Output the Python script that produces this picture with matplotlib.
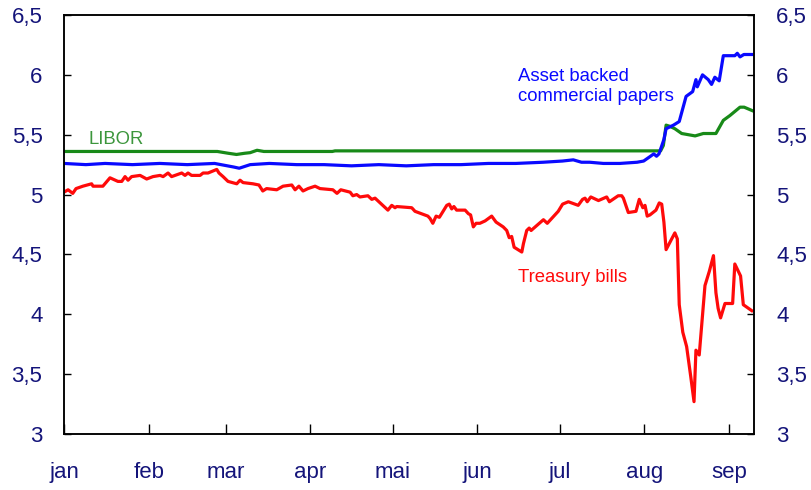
import numpy as np
import pandas as pd
import matplotlib
matplotlib.use("Agg")
import matplotlib.pyplot as plt
from matplotlib.ticker import FuncFormatter

plt.rcParams['font.family'] = ['Liberation Sans', 'DejaVu Sans']

# days since 1 Jan 2007, values in percent
tbill_days = [0, 1.5, 3.2, 4.4, 6.9, 10.1, 10.6, 14.2, 16.8, 19.7, 21.1, 22.3, 23.4, 24.7,
              27.8, 30.2, 32.5, 35.1, 36.2, 38.0, 39.3, 43.0, 44.2, 45.3, 46.6, 49.7, 50.8,
              52.6, 55.8, 56.6, 58.1, 59.9, 63.1, 64.3, 65.4, 69.0, 71.2, 72.6, 74.0, 77.7,
              80.0, 83.2, 84.4, 85.8, 87.3, 89.1, 91.7, 93.5, 98.2, 99.7, 101.1, 104.5,
              105.5, 106.9, 108.1, 111.0, 112.4, 113.6, 118.3, 119.7, 120.9, 121.5, 127.0,
              128.2, 132.9, 133.7, 134.7, 135.9, 137.1, 139.8, 140.7, 141.6, 142.4, 143.4,
              146.5, 147.7, 148.5, 149.5, 150.5, 151.9, 153.8, 156.2, 157.8, 160.4, 161.7,
              162.6, 163.5, 164.4, 167.2, 167.8, 169.0, 169.9, 170.6, 175.1, 176.5, 180.5,
              182.1, 184.2, 187.8, 189.4, 190.3, 191.1, 192.4, 195.2, 198.2, 199.2, 202.4,
              203.7, 204.3, 206.1, 208.9, 210.1, 211.4, 212.2, 213.0, 214.0, 216.2, 217.4,
              218.3, 219.1, 219.9, 223.1, 224.0, 224.7, 226.0, 227.4, 228.9, 230.1, 230.8,
              232.0, 234.1, 235.7, 237.2, 238.1, 238.9, 239.8, 241.4, 244.2, 245.0, 247.1,
              248.1, 251.2]
tbill = [5.02, 5.04, 5.01, 5.05, 5.07, 5.09, 5.07, 5.07, 5.14, 5.11, 5.11, 5.15, 5.12, 5.15,
         5.16, 5.13, 5.15, 5.16, 5.15, 5.18, 5.15, 5.18, 5.16, 5.18, 5.16, 5.16, 5.18,
         5.18, 5.21, 5.18, 5.15, 5.11, 5.09, 5.12, 5.10, 5.09, 5.08, 5.03, 5.05, 5.04,
         5.07, 5.08, 5.04, 5.07, 5.03, 5.05, 5.07, 5.05, 5.04, 5.01, 5.04, 5.02,
         4.99, 5.00, 4.98, 4.99, 4.96, 4.97, 4.87, 4.91, 4.89, 4.90, 4.89,
         4.86, 4.82, 4.80, 4.76, 4.82, 4.81, 4.91, 4.92, 4.88, 4.90, 4.87,
         4.87, 4.84, 4.83, 4.73, 4.76, 4.76, 4.78, 4.82, 4.77, 4.73, 4.70,
         4.64, 4.65, 4.56, 4.52, 4.59, 4.70, 4.72, 4.70, 4.79, 4.76, 4.86,
         4.92, 4.94, 4.91, 4.96, 4.97, 4.94, 4.98, 4.95, 4.98, 4.94, 4.99,
         4.99, 4.97, 4.85, 4.86, 4.96, 4.89, 4.91, 4.82, 4.83, 4.87, 4.93,
         4.92, 4.77, 4.54, 4.68, 4.63, 4.08, 3.85, 3.73, 3.48, 3.27, 3.70,
         3.66, 4.24, 4.36, 4.49, 4.18, 4.05, 3.97, 4.09, 4.09, 4.42, 4.32,
         4.08, 4.03]

abcp_days = [0, 8, 15, 25, 35, 45, 55, 62, 64, 68, 75, 85, 95, 105, 115, 125, 135, 145,
             155, 165, 175, 182, 186, 189, 192, 197, 203, 209.3, 211.7, 214.2, 215.4,
             216.4, 217.3, 219.1, 219.9, 222.6, 224.7, 227.2, 229.6, 230.8, 231.3, 233.2,
             235.3, 236.5, 237.7, 239.3, 240.8, 245.0, 245.9, 246.9, 248.3, 251.2]
abcp = [5.26, 5.25, 5.26, 5.25, 5.26, 5.25, 5.26, 5.23, 5.22, 5.25, 5.26, 5.25, 5.25, 5.24,
        5.25, 5.24, 5.25, 5.25, 5.26, 5.26, 5.27, 5.28, 5.29, 5.27, 5.27, 5.26, 5.26, 5.27,
        5.28, 5.32, 5.34, 5.32, 5.34, 5.46, 5.55, 5.58, 5.61, 5.82, 5.86, 5.96, 5.90, 6.00,
        5.96, 5.92, 5.98, 5.95, 6.16, 6.16, 6.18, 6.15, 6.17, 6.17]

libor_days = [0, 56, 60, 63, 66, 68, 70.5, 73, 98, 99, 217.9, 218.9, 219.9, 221.3, 223.1,
              225.6, 230.5, 233.5, 238.1, 240.8, 243.2, 246.9, 248.4, 251.5]
libor = [5.36, 5.36, 5.345, 5.335, 5.345, 5.35, 5.37, 5.36, 5.36, 5.365, 5.365, 5.41, 5.58,
         5.57, 5.55, 5.51, 5.49, 5.51, 5.51, 5.62, 5.66, 5.73, 5.73, 5.70]

months = ['jan', 'feb', 'mar', 'apr', 'mai', 'jun', 'jul', 'aug', 'sep']

start = pd.Timestamp('2007-01-01')
def to_dates(d):
    return start + pd.to_timedelta(np.array(d), unit='D')

navy = '#14147a'
fig = plt.figure(figsize=(8.11, 4.90), dpi=100)
ax = fig.add_axes([0.0789, 0.1143, 0.8508, 0.8551])

ax.plot(to_dates(libor_days), libor, color='#188a18', lw=2.3)
ax.plot(to_dates(abcp_days), abcp, color='#0a0aff', lw=2.3)
ax.plot(to_dates(tbill_days), tbill, color='#ff0a0a', lw=2.3)

ax.set_xlim(start, start + pd.Timedelta(days=252))
ax.set_ylim(3, 6.5)
ticks = pd.date_range('2007-01-01', periods=9, freq='MS')
ax.set_xticks(ticks)
ax.set_xticklabels(months)
ax.set_yticks(np.arange(3, 6.51, 0.5))
fmt = FuncFormatter(lambda v, p: ('%g' % v).replace('.', ','))
ax.yaxis.set_major_formatter(fmt)

ax2 = ax.twinx()
ax2.set_ylim(3, 6.5)
ax2.set_yticks(np.arange(3, 6.51, 0.5))
ax2.yaxis.set_major_formatter(fmt)

for a in (ax, ax2):
    for s in a.spines.values():
        s.set_linewidth(1.1)
ax.tick_params(axis='y', direction='in', length=5, width=1, pad=15.5, labelsize=16, labelcolor=navy)
ax.tick_params(axis='x', direction='in', length=7, width=1, pad=20, labelsize=16, labelcolor=navy)
ax2.tick_params(axis='y', direction='in', length=5, width=1, pad=16, labelsize=16, labelcolor=navy)

ax.text(start + pd.Timedelta(days=8.8), 5.46, 'LIBOR', color='#3c963c', fontsize=13.3, va='center')
ax.text(start + pd.Timedelta(days=165.8), 5.90, 'Asset backed\ncommercial papers', color='#0a0aff',
        fontsize=13.3, va='center', linespacing=1.25)
ax.text(start + pd.Timedelta(days=165.8), 4.31, 'Treasury bills', color='#ff0a0a', fontsize=13.3, va='center')

fig.savefig('out.png', dpi=100)
